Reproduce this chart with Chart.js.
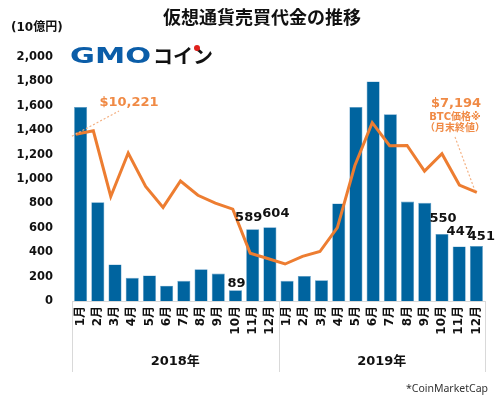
<!DOCTYPE html>
<html>
<head>
<meta charset="utf-8">
<script src="https://cdn.jsdelivr.net/npm/chart.js@4.4.1/dist/chart.umd.min.js"></script>
<style>
html,body{margin:0;padding:0;background:#fff;}
#wrap{width:500px;height:396px;position:relative;}
</style>
</head>
<body>
<div id="wrap"><canvas id="c" width="500" height="396"></canvas></div>
<script>
// ---- data ----
const monthLabels = ['1月','2月','3月','4月','5月','6月','7月','8月','9月','10月','11月','12月',
                     '1月','2月','3月','4月','5月','6月','7月','8月','9月','10月','11月','12月'];
const yearLabels = ['2018年','2019年'];
const tradingVolume = [1590, 810, 300, 190, 210, 125, 165, 260, 225, 89, 589, 604,
                       165, 205, 170, 800, 1590, 1800, 1530, 815, 805, 550, 447, 451];
const btcPrice = [10221, 10397, 6973, 9240, 7494, 6404, 7780, 7037, 6625, 6318, 4017, 3742,
                  3457, 3854, 4105, 5350, 8574, 10817, 9620, 9630, 8293, 9199, 7569, 7194];
const yTicks = [0, 200, 400, 600, 800, 1000, 1200, 1400, 1600, 1800, 2000];
const labeledBars = [9, 10, 11, 21, 22, 23];
const titleText = '仮想通貨売買代金の推移';
const unitText = '(10億円)';
const footText = '*CoinMarketCap';
const firstPriceText = '$10,221';
const lastPriceText = '$7,194';
const priceNote1 = 'BTC価格※';
const priceNote2 = '（月末終値）';

const BLUE = '#00649F';
const ORANGE = '#ED7D31';
const LORANGE = '#F08A45';
const CJK = '"Noto Sans CJK JP"';
const LAT = '"DejaVu Sans"';

const labelNudge = {9:[1,-3],10:[-4,-8],11:[6,-10],21:[1,-12],22:[1,-11],23:[5,-6]};

const deco = {
  id: 'deco',
  afterDraw(chart) {
    const ctx = chart.ctx;
    const ca = chart.chartArea;
    ctx.save();
    // title
    ctx.fillStyle = '#111';
    ctx.font = 'bold 18px ' + CJK;
    ctx.textAlign = 'center';
    ctx.textBaseline = 'middle';
    ctx.fillText(titleText, 262, 17);
    // unit
    ctx.font = 'bold 12px ' + LAT + ',' + CJK;
    ctx.textAlign = 'left';
    ctx.fillText(unitText, 11, 28);
    // logo
    ctx.save();
    ctx.font = 'bold 22px ' + LAT;
    const gw = ctx.measureText('GMO').width;
    ctx.translate(70, 63);
    ctx.scale(81 / gw, 1);
    ctx.fillStyle = '#0B5DA8';
    ctx.textBaseline = 'alphabetic';
    ctx.fillText('GMO', 0, 0);
    ctx.restore();
    ctx.font = 'bold 20px ' + CJK;
    ctx.fillStyle = '#111';
    ctx.textBaseline = 'alphabetic';
    ctx.fillText('コイン', 153, 64);
    ctx.beginPath();
    ctx.fillStyle = '#E0201B';
    ctx.arc(197, 48, 3, 0, Math.PI * 2);
    ctx.fill();

    // group separators and year labels
    ctx.strokeStyle = '#D9D9D9';
    ctx.lineWidth = 1;
    const step = (ca.right - ca.left) / monthLabels.length;
    const per = monthLabels.length / yearLabels.length;
    for (let g = 0; g <= yearLabels.length; g++) {
      const x = Math.round(ca.left + g * per * step) + 0.5;
      ctx.beginPath();
      ctx.moveTo(x, ca.bottom);
      ctx.lineTo(x, 372);
      ctx.stroke();
    }
    ctx.fillStyle = '#111';
    ctx.font = 'bold 13px ' + LAT + ',' + CJK;
    ctx.textAlign = 'center';
    ctx.textBaseline = 'middle';
    yearLabels.forEach((t, g) => {
      const x = ca.left + (g + 0.5) * per * step;
      ctx.fillText(t, x, 362);
    });

    // data labels
    const meta = chart.getDatasetMeta(0);
    ctx.font = 'bold 13px ' + LAT;
    ctx.textBaseline = 'alphabetic';
    labeledBars.forEach(i => {
      const el = meta.data[i];
      const n = labelNudge[i] || [0, -4];
      ctx.fillText(String(tradingVolume[i]), el.x + n[0], el.y + n[1]);
    });

    // price annotations
    const lm = chart.getDatasetMeta(1);
    const p0 = lm.data[0], pN = lm.data[lm.data.length - 1];
    ctx.strokeStyle = '#F4B183';
    ctx.lineWidth = 1.2;
    ctx.setLineDash([2, 2]);
    ctx.beginPath();
    ctx.moveTo(p0.x - 4, p0.y + 2);
    ctx.lineTo(119, 111);
    ctx.stroke();
    ctx.beginPath();
    ctx.moveTo(455, 137);
    ctx.lineTo(pN.x - 2, pN.y - 2);
    ctx.stroke();
    ctx.setLineDash([]);
    ctx.fillStyle = LORANGE;
    ctx.font = 'bold 13px ' + LAT;
    ctx.textAlign = 'center';
    ctx.textBaseline = 'middle';
    ctx.fillText(firstPriceText, 129, 103);
    ctx.fillText(lastPriceText, 456, 104);
    ctx.font = 'bold 10px ' + LAT + ',' + CJK;
    ctx.fillText(priceNote1, 455, 117);
    ctx.fillText(priceNote2, 455, 128);

    // footnote
    ctx.fillStyle = '#333';
    ctx.font = '10.5px "Noto Sans"';
    ctx.textAlign = 'right';
    ctx.fillText(footText, 488, 389);
    ctx.restore();
  }
};

new Chart(document.getElementById('c'), {
  data: {
    labels: monthLabels,
    datasets: [
      {
        type: 'bar',
        data: tradingVolume,
        backgroundColor: BLUE,
        borderColor: '#5D9BC6',
        borderWidth: 0.6,
        grouped: false,
        categoryPercentage: 1,
        barPercentage: 0.76,
        xAxisID: 'x', yAxisID: 'y',
        order: 2
      },
      {
        type: 'line',
        data: btcPrice.map((v, i) => ({x: i, y: v})),
        borderColor: ORANGE,
        borderWidth: 3,
        pointRadius: 0,
        tension: 0,
        fill: false,
        xAxisID: 'xl', yAxisID: 'y1',
        order: 1
      }
    ]
  },
  options: {
    responsive: false,
    animation: false,
    events: [],
    layout: {padding: {top: 57, right: 15, left: 0, bottom: 0}},
    plugins: {legend: {display: false}, tooltip: {enabled: false}, title: {display: false}},
    scales: {
      x: {
        type: 'category',
        offset: true,
        grid: {display: false, drawTicks: false},
        border: {display: true, color: '#D9D9D9', width: 1},
        ticks: {
          autoSkip: false, minRotation: 90, maxRotation: 90, padding: 5,
          color: '#111',
          font: {family: 'DejaVu Sans, Noto Sans CJK JP', size: 12, weight: 'bold'}
        },
        afterFit(s) { s.height = 95; }
      },
      xl: {
        type: 'linear', display: false, offset: false, min: -0.224, max: 23.47
      },
      y: {
        min: 0, max: 2000,
        afterBuildTicks(s) { s.ticks = yTicks.map(v => ({value: v})); },
        grid: {display: false, drawTicks: false},
        border: {display: false},
        ticks: {
          padding: 19, color: '#111',
          font: {family: 'DejaVu Sans', size: 11.5, weight: 'bold'},
          callback: v => v.toLocaleString('en-US')
        },
        afterFit(s) { s.width = 72; }
      },
      y1: {
        type: 'linear', display: false, position: 'right', min: 1530, max: 14240
      }
    }
  },
  plugins: [deco]
});
</script>
</body>
</html>
